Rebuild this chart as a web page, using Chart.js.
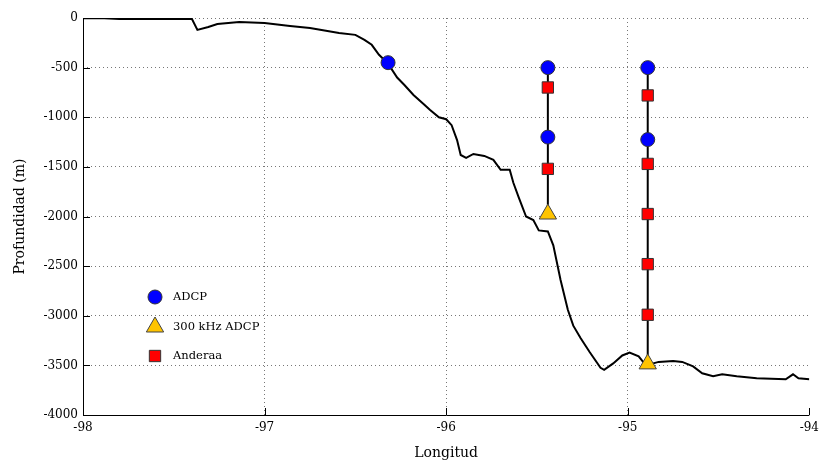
<!DOCTYPE html>
<html>
<head>
<meta charset="utf-8">
<script src="https://cdn.jsdelivr.net/npm/chart.js@4/dist/chart.umd.min.js"></script>
<style>
  html, body { margin: 0; padding: 0; background: #fff; }
  #wrap { width: 825px; height: 462px; position: relative; }
</style>
</head>
<body>
<div id="wrap"><canvas id="chart"></canvas></div>
<script>
// bathymetry profile (longitude, depth in m)
const bathyLon = [-98, -97.91, -97.8, -97.4, -97.37, -97.31, -97.26, -97.14, -97, -96.86, -96.75, -96.59,
  -96.5, -96.45, -96.41, -96.37, -96.32, -96.27, -96.23, -96.18, -96.12, -96.09, -96.04, -96, -95.97,
  -95.94, -95.92, -95.89, -95.85, -95.79, -95.74, -95.70, -95.65, -95.63, -95.60, -95.56, -95.52,
  -95.49, -95.44, -95.41, -95.37, -95.33, -95.30, -95.26, -95.21, -95.15, -95.13, -95.08, -95.03,
  -94.99, -94.94, -94.90, -94.83, -94.75, -94.70, -94.64, -94.59, -94.53, -94.48, -94.40, -94.29,
  -94.13, -94.09, -94.06, -94];
const bathyDepth = [-2, 0, -10, -10, -120, -90, -60, -40, -50, -80, -100, -150,
  -170, -220, -270, -370, -460, -600, -675, -775, -875, -925, -1000, -1020, -1080,
  -1230, -1380, -1410, -1370, -1390, -1430, -1530, -1530, -1660, -1810, -2000, -2035,
  -2140, -2150, -2290, -2640, -2940, -3100, -3225, -3365, -3525, -3545, -3480, -3400,
  -3370, -3410, -3500, -3465, -3455, -3465, -3510, -3580, -3610, -3590, -3610, -3630,
  -3640, -3590, -3630, -3640];

// mooring longitudes
const mooringLon = [-96.32, -95.44, -94.89];
// instrument depths per mooring
const adcpDepth = [[-450], [-500, -1200], [-500, -1225]];
const khzDepth = [[], [-1975], [-3485]];
const anderaaDepth = [[], [-700, -1520], [-780, -1470, -1975, -2480, -2990]];
// mooring line extents (top, bottom)
const lineTop = [null, -500, -500];
const lineBottom = [null, -1975, -3485];

const xTicks = [-98, -97, -96, -95, -94];
const yTicks = [0, -500, -1000, -1500, -2000, -2500, -3000, -3500, -4000];

const legendItems = ['ADCP', '300 kHz ADCP', 'Anderaa'];

const toPts = (arr) => arr.flatMap((ds, i) => ds.map(d => ({ x: mooringLon[i], y: d })));

const adcpStyle = { pointStyle: 'circle', radius: 7, backgroundColor: '#0000ff', borderColor: '#333', borderWidth: 1 };
const khzStyle = { pointStyle: 'triangle', radius: 10, backgroundColor: '#ffc400', borderColor: '#444', borderWidth: 1 };
const andStyle = { pointStyle: 'rect', radius: 8, backgroundColor: '#ff0000', borderColor: '#333', borderWidth: 1 };

const datasets = [{
  label: 'bathy',
  type: 'line',
  order: 5,
  data: bathyLon.map((x, i) => ({ x, y: bathyDepth[i] })),
  borderColor: '#000', borderWidth: 2, pointRadius: 0, tension: 0, fill: false,
}];
mooringLon.forEach((lon, i) => {
  if (lineTop[i] === null) return;
  datasets.push({
    label: 'line' + i,
    type: 'line',
    order: 4,
    data: [{ x: lon, y: lineTop[i] }, { x: lon, y: lineBottom[i] }],
    borderColor: '#000', borderWidth: 2, pointRadius: 0, fill: false,
  });
});
[['ADCP', adcpDepth, adcpStyle], ['Anderaa', anderaaDepth, andStyle], ['300 kHz ADCP', khzDepth, khzStyle]].forEach(([label, d, s]) => {
  datasets.push({ label, type: 'scatter', order: 1, data: toPts(d),
    pointStyle: s.pointStyle, pointRadius: s.radius, pointBackgroundColor: s.backgroundColor,
    pointBorderColor: s.borderColor, pointBorderWidth: 1 });
});

// axes + inward ticks, MATLAB-like
const axesPlugin = {
  id: 'axesLines',
  beforeDatasetsDraw(chart) {
    const { ctx, chartArea: a, scales: { x, y } } = chart;
    ctx.save();
    ctx.strokeStyle = '#000';
    ctx.lineWidth = 1;
    ctx.beginPath();
    ctx.moveTo(a.left + 0.5, a.top);
    ctx.lineTo(a.left + 0.5, a.bottom + 0.5);
    ctx.lineTo(a.right, a.bottom + 0.5);
    xTicks.forEach(v => { const px = Math.round(x.getPixelForValue(v)) + 0.5; ctx.moveTo(px, a.bottom); ctx.lineTo(px, a.bottom - 7); });
    yTicks.forEach(v => { const py = Math.round(y.getPixelForValue(v)) + 0.5; ctx.moveTo(a.left, py); ctx.lineTo(a.left + 7, py); });
    ctx.stroke();
    ctx.restore();
  }
};

const legendPlugin = {
  id: 'insideLegend',
  afterDraw(chart) {
    const { ctx } = chart;
    const styles = [adcpStyle, khzStyle, andStyle];
    const rows = [297, 327, 356];
    ctx.save();
    ctx.font = '11.5px "DejaVu Serif", serif';
    ctx.textBaseline = 'middle';
    legendItems.forEach((t, i) => {
      const s = styles[i];
      ctx.fillStyle = s.backgroundColor;
      ctx.strokeStyle = s.borderColor;
      ctx.lineWidth = 1;
      Chart.helpers.drawPoint(ctx, { pointStyle: s.pointStyle, radius: s.radius, rotation: 0, borderWidth: 1 }, 155, rows[i]);
      ctx.fillStyle = '#000';
      ctx.fillText(t, 173, rows[i]);
    });
    ctx.restore();
  }
};

const tickFont = { family: '"DejaVu Serif", serif', size: 12 };

new Chart(document.getElementById('chart'), {
  type: 'scatter',
  data: { datasets },
  plugins: [axesPlugin, legendPlugin],
  options: {
    responsive: true, maintainAspectRatio: false, animation: false,
    layout: { padding: { top: 18, right: 13, left: 12, bottom: 0 } },
    plugins: { legend: { display: false }, tooltip: { enabled: false } },
    scales: {
      x: {
        type: 'linear', min: -98, max: -94,
        afterBuildTicks: s => { s.ticks = xTicks.map(v => ({ value: v })); },
        afterFit: s => { s.height = 47; },
        ticks: { color: '#000', font: tickFont, padding: 6, maxRotation: 0, callback: v => String(v) },
        grid: { drawTicks: false, color: c => (c.tick && c.tick.value === -94) ? 'rgba(0,0,0,0)' : '#777', lineWidth: 1 },
        border: { display: false, dash: [1, 3] },
        title: { display: true, text: 'Longitud', color: '#000', font: { family: '"DejaVu Serif", serif', size: 14 }, padding: { top: 2, bottom: 0 } },
      },
      y: {
        type: 'linear', min: -4000, max: 0,
        afterBuildTicks: s => { s.ticks = yTicks.map(v => ({ value: v })); },
        afterFit: s => { s.width = 71; },
        ticks: { color: '#000', font: tickFont, padding: 5, callback: v => String(v) },
        grid: { drawTicks: false, color: '#777', lineWidth: 1 },
        border: { display: false, dash: [1, 3] },
        title: { display: true, text: 'Profundidad (m)', color: '#000', font: { family: '"DejaVu Serif", serif', size: 14 }, padding: { top: 0, bottom: 4 } },
      }
    }
  }
});
</script>
</body>
</html>
